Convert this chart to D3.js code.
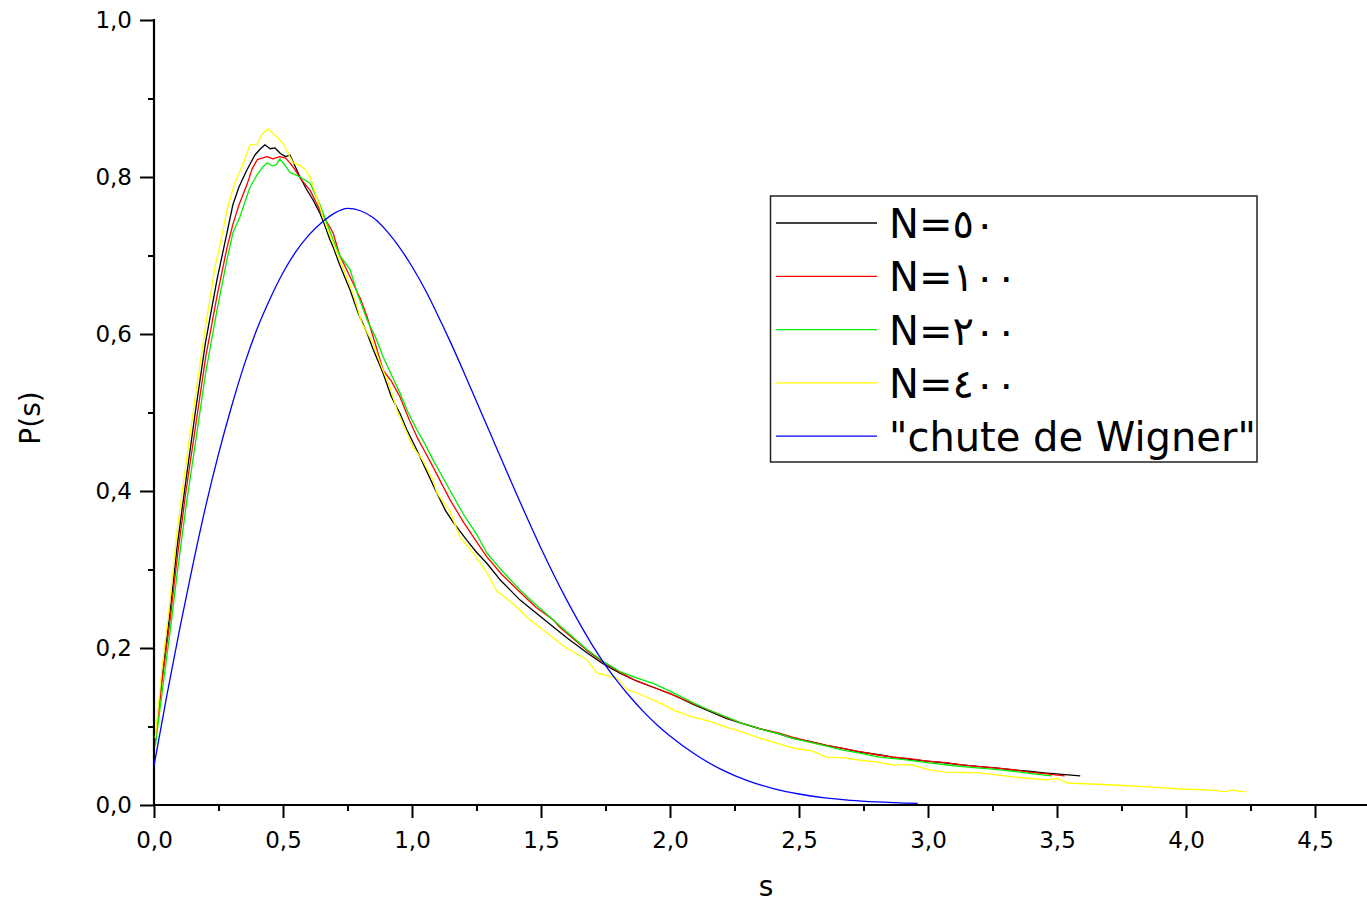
<!DOCTYPE html>
<html>
<head>
<meta charset="utf-8">
<script src="https://cdn.jsdelivr.net/npm/d3@7"></script>
<style>
  html, body { margin: 0; padding: 0; background: #fff; }
  svg { display: block; }
  text { font-family: "DejaVu Sans", Verdana, sans-serif; fill: #000; }
</style>
</head>
<body>
<svg id="chart" width="1367" height="905"></svg>
<script>
// Nearest-neighbour spacing distributions, P(s) against s
const seriesLabels = ["N=٥٠", "N=١٠٠", "N=٢٠٠", "N=٤٠٠", "\"chute de Wigner\""];
const seriesColors = ["#000000", "#ff0000", "#00ee00", "#ffff00", "#0000ff"];

const xTickValues = [0, 0.5, 1, 1.5, 2, 2.5, 3, 3.5, 4, 4.5];
const yTickValues = [0, 0.2, 0.4, 0.6, 0.8, 1.0];

// N = 50
const dataN50 = [
  [0.005,0.080],[0.03,0.160],[0.062,0.245],[0.09,0.330],[0.124,0.414],[0.16,0.500],
  [0.20,0.590],[0.244,0.669],[0.283,0.729],[0.306,0.765],[0.33,0.788],[0.36,0.809],
  [0.391,0.828],[0.41,0.835],[0.43,0.841],[0.45,0.836],[0.469,0.837],[0.49,0.830],
  [0.51,0.826],[0.527,0.828],[0.545,0.815],[0.566,0.800],[0.59,0.785],[0.616,0.771],
  [0.643,0.754],[0.66,0.740],[0.682,0.720],[0.694,0.711],[0.72,0.688],[0.76,0.656],
  [0.79,0.628],[0.826,0.601],[0.85,0.580],[0.888,0.550],[0.92,0.520],[0.953,0.499],
  [0.98,0.478],[1.019,0.452],[1.05,0.430],[1.097,0.397],[1.13,0.375],[1.16,0.360],
  [1.213,0.337],[1.25,0.322],[1.29,0.308],[1.341,0.287],[1.38,0.274],[1.419,0.261],
  [1.48,0.245],[1.547,0.227],[1.60,0.213],[1.678,0.194],[1.74,0.180],[1.806,0.168],
  [1.87,0.158],[1.935,0.150],[2.0,0.142],[2.04,0.136],[2.09,0.128],[2.15,0.120],
  [2.22,0.110],[2.28,0.104],[2.35,0.097],[2.42,0.091],[2.477,0.085],[2.54,0.081],
  [2.607,0.076],[2.67,0.072],[2.736,0.0675],[2.81,0.064],[2.864,0.061],[2.93,0.058],
  [2.996,0.056],[3.07,0.0535],[3.13,0.051],[3.2,0.049],[3.27,0.047],[3.33,0.0446],
  [3.39,0.043],[3.45,0.041],[3.52,0.039],[3.59,0.037]
];

// N = 100
const dataN100 = [
  [0.005,0.080],[0.03,0.155],[0.062,0.235],[0.09,0.315],[0.124,0.400],[0.16,0.480],
  [0.20,0.570],[0.244,0.648],[0.283,0.710],[0.306,0.740],[0.33,0.765],[0.36,0.790],
  [0.38,0.810],[0.40,0.822],[0.438,0.826],[0.461,0.823],[0.488,0.826],[0.51,0.824],
  [0.527,0.818],[0.545,0.810],[0.566,0.799],[0.605,0.783],[0.643,0.758],[0.694,0.729],
  [0.72,0.700],[0.76,0.673],[0.80,0.645],[0.826,0.622],[0.86,0.585],[0.888,0.554],
  [0.92,0.540],[0.953,0.520],[0.99,0.490],[1.019,0.469],[1.05,0.450],[1.081,0.431],
  [1.147,0.389],[1.20,0.360],[1.237,0.342],[1.29,0.316],[1.35,0.293],[1.419,0.271],
  [1.48,0.252],[1.547,0.236],[1.574,0.226],[1.678,0.197],[1.74,0.182],[1.806,0.169],
  [1.87,0.158],[1.935,0.150],[2.0,0.142],[2.09,0.129],[2.15,0.121],[2.22,0.111],
  [2.28,0.104],[2.35,0.097],[2.42,0.092],[2.477,0.086],[2.54,0.081],[2.607,0.076],
  [2.67,0.072],[2.736,0.068],[2.80,0.064],[2.864,0.061],[2.93,0.059],[2.996,0.056],
  [3.07,0.054],[3.13,0.051],[3.2,0.049],[3.27,0.047],[3.33,0.045],[3.39,0.042],
  [3.45,0.040],[3.53,0.037]
];

// N = 200
const dataN200 = [
  [0.005,0.075],[0.03,0.140],[0.062,0.220],[0.09,0.295],[0.124,0.380],[0.16,0.460],
  [0.20,0.550],[0.244,0.630],[0.283,0.695],[0.306,0.729],[0.333,0.749],[0.372,0.787],
  [0.40,0.803],[0.42,0.812],[0.438,0.818],[0.461,0.814],[0.475,0.816],[0.488,0.823],
  [0.51,0.814],[0.527,0.806],[0.566,0.800],[0.605,0.792],[0.643,0.765],[0.694,0.720],
  [0.72,0.700],[0.76,0.682],[0.79,0.650],[0.826,0.618],[0.86,0.595],[0.888,0.571],
  [0.92,0.548],[0.953,0.525],[0.985,0.500],[1.019,0.478],[1.05,0.460],[1.081,0.440],
  [1.147,0.401],[1.20,0.370],[1.25,0.345],[1.29,0.321],[1.35,0.298],[1.419,0.274],
  [1.48,0.255],[1.547,0.236],[1.574,0.228],[1.678,0.198],[1.74,0.183],[1.806,0.170],
  [1.87,0.162],[1.935,0.155],[2.0,0.145],[2.09,0.130],[2.15,0.121],[2.22,0.112],
  [2.28,0.104],[2.35,0.097],[2.42,0.091],[2.477,0.085],[2.54,0.080],[2.607,0.075],
  [2.67,0.070],[2.736,0.066],[2.81,0.061],[2.90,0.058],[2.996,0.054],[3.1,0.050],
  [3.2,0.047],[3.27,0.045],[3.33,0.043],[3.40,0.040],[3.48,0.037]
];

// N = 400
const dataN400 = [
  [0.005,0.085],[0.03,0.170],[0.062,0.260],[0.09,0.350],[0.124,0.435],[0.16,0.520],
  [0.20,0.610],[0.236,0.685],[0.26,0.720],[0.283,0.758],[0.31,0.790],[0.341,0.813],
  [0.36,0.830],[0.372,0.841],[0.40,0.842],[0.42,0.855],[0.442,0.861],[0.47,0.853],
  [0.50,0.843],[0.52,0.830],[0.539,0.818],[0.566,0.815],[0.585,0.810],[0.605,0.800],
  [0.643,0.762],[0.655,0.749],[0.709,0.703],[0.771,0.652],[0.806,0.614],[0.849,0.588],
  [0.88,0.560],[0.915,0.532],[0.942,0.503],[1.004,0.456],[1.04,0.440],[1.081,0.414],
  [1.097,0.397],[1.147,0.374],[1.186,0.341],[1.24,0.320],[1.29,0.296],[1.33,0.272],
  [1.39,0.257],[1.457,0.236],[1.523,0.219],[1.574,0.206],[1.60,0.200],[1.678,0.185],
  [1.717,0.168],[1.795,0.162],[1.833,0.147],[1.87,0.143],[1.96,0.130],[2.02,0.120],
  [2.09,0.112],[2.15,0.107],[2.22,0.099],[2.28,0.093],[2.35,0.085],[2.40,0.080],
  [2.477,0.0726],[2.55,0.069],[2.607,0.061],[2.68,0.060],[2.736,0.057],[2.80,0.055],
  [2.864,0.051],[2.94,0.051],[3.0,0.045],[3.07,0.042],[3.2,0.041],[3.33,0.0357],
  [3.46,0.032],[3.50,0.034],[3.54,0.028],[3.72,0.0255],[3.85,0.023],[3.98,0.0204],
  [4.10,0.019],[4.15,0.017],[4.18,0.019],[4.23,0.0166]
];

// Wigner surmise
const dataWigner = [
  [0,0.050],[0.05,0.140],[0.10,0.225],[0.15,0.305],[0.20,0.380],[0.25,0.447],
  [0.30,0.507],[0.35,0.561],[0.40,0.607],[0.45,0.645],[0.50,0.678],[0.55,0.705],
  [0.60,0.726],[0.65,0.742],[0.70,0.754],[0.75,0.760],[0.80,0.757],[0.85,0.748],
  [0.90,0.732],[0.95,0.711],[1.00,0.686],[1.05,0.657],[1.10,0.624],[1.15,0.589],
  [1.20,0.552],[1.25,0.514],[1.30,0.476],[1.35,0.438],[1.40,0.400],[1.45,0.363],
  [1.50,0.327],[1.55,0.293],[1.60,0.261],[1.65,0.231],[1.70,0.203],[1.75,0.178],
  [1.80,0.156],[1.85,0.136],[1.90,0.118],[1.95,0.102],[2.00,0.088],[2.10,0.064],
  [2.20,0.045],[2.30,0.031],[2.40,0.021],[2.50,0.014],[2.60,0.009],[2.70,0.006],
  [2.80,0.004],[2.96,0.002]
];

const allSeries = [dataN50, dataN100, dataN200, dataN400, dataWigner];

const svg = d3.select("#chart");

const x = d3.scaleLinear().domain([0, 4.5]).range([154, 1315]);
const y = d3.scaleLinear().domain([0, 1]).range([805, 20]);

const fmt = d => d3.format(".1f")(d).replace(".", ",");

// ---- axes ----
const xMinor = d3.range(0.25, 4.5, 0.5);
const yMinor = d3.range(0.1, 1.0, 0.2);

const gx = svg.append("g").attr("transform", "translate(0,805)");
gx.call(d3.axisBottom(x).tickValues(xTickValues).tickFormat(fmt)
  .tickSize(13).tickSizeOuter(0).tickPadding(14));
gx.append("g").call(d3.axisBottom(x).tickValues(xMinor).tickFormat("")
  .tickSize(6).tickSizeOuter(0));

const gy = svg.append("g").attr("transform", "translate(154,0)");
gy.call(d3.axisLeft(y).tickValues(yTickValues).tickFormat(fmt)
  .tickSize(14).tickSizeOuter(0).tickPadding(8));
gy.append("g").call(d3.axisLeft(y).tickValues(yMinor).tickFormat("")
  .tickSize(6).tickSizeOuter(0));

svg.selectAll(".domain").remove();
svg.selectAll(".tick line").attr("stroke", "#000").attr("stroke-width", 2);
svg.selectAll(".tick text").style("font-size", "23px").attr("fill", "#000");

// axis lines
svg.append("line").attr("x1", 153).attr("x2", 1367).attr("y1", 805).attr("y2", 805)
  .attr("stroke", "#000").attr("stroke-width", 2.2);
svg.append("line").attr("x1", 154).attr("x2", 154).attr("y1", 19).attr("y2", 806)
  .attr("stroke", "#000").attr("stroke-width", 2.2);

// axis titles
svg.append("text").attr("x", 766).attr("y", 896).attr("text-anchor", "middle")
  .style("font-size", "28px").text("s");
svg.append("text").attr("transform", "translate(40,418) rotate(-90)")
  .attr("text-anchor", "middle").style("font-size", "28px").text("P(s)");

// ---- curves ----
const line = d3.line().x(d => x(d[0])).y(d => y(d[1]));
const smoothLine = d3.line().x(d => x(d[0])).y(d => y(d[1])).curve(d3.curveMonotoneX);

const plot = svg.append("g");
allSeries.forEach((data, i) => {
  plot.append("path")
    .datum(data)
    .attr("fill", "none")
    .attr("stroke", seriesColors[i])
    .attr("stroke-width", 1.3)
    .attr("stroke-linejoin", "round")
    .attr("d", i === 4 ? smoothLine : line);
});

// ---- legend ----
const legend = svg.append("g");
legend.append("rect").attr("x", 770.5).attr("y", 196).attr("width", 486.5).attr("height", 266)
  .attr("fill", "#fff").attr("stroke", "#222").attr("stroke-width", 1.5);
seriesLabels.forEach((lab, i) => {
  const cy = 223 + i * 53.3;
  legend.append("line").attr("x1", 776).attr("x2", 877).attr("y1", cy).attr("y2", cy)
    .attr("stroke", seriesColors[i]).attr("stroke-width", 1.3);
  legend.append("text").attr("x", 889).attr("y", cy + 15)
    .style("font-size", "40px").text(lab);
});
</script>
</body>
</html>
